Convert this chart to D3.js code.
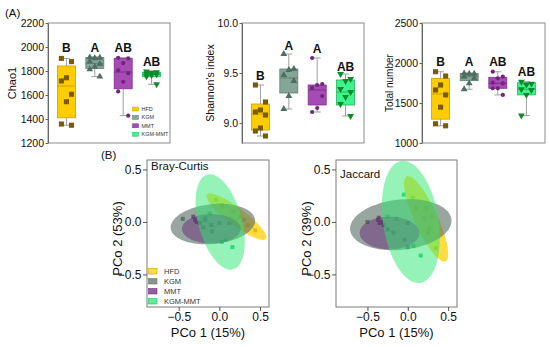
<!DOCTYPE html>
<html lang="en">
<head>
<meta charset="UTF-8">
<title>Diversity and PCoA</title>
<style>
  body { margin: 0; background: #fff; }
  svg { display: block; font-family: Arial, "Liberation Sans", sans-serif; }
</style>
</head>
<body>
<script src="https://cdn.jsdelivr.net/npm/d3@7"></script>
<script>
// groups in legend order
const groups = ["HFD", "KGM", "MMT", "KGM-MMT"];

// box stats [min, q1, median, q3, max] per group
const chao1Box = [[1348, 1410, 1675, 1842, 1905], [1753, 1822, 1864, 1912, 1918], [1428, 1652, 1792, 1906, 1910], [1689, 1752, 1772, 1790, 1798]];
const chao1Pts = [
  [1905, 1878, 1744, 1717, 1606, 1544, 1358, 1348],
  [1914, 1911, 1906, 1878, 1858, 1836, 1814, 1753],
  [1910, 1906, 1866, 1806, 1782, 1710, 1630, 1428],
  [1796, 1790, 1785, 1778, 1772, 1765, 1755, 1689]
];
const chao1Letters = [["B", 1962], ["A", 1962], ["AB", 1962], ["AB", 1840]];

const shannonBox = [[8.87, 8.93, 9.09, 9.19, 9.38], [9.14, 9.30, 9.45, 9.54, 9.69], [9.11, 9.18, 9.33, 9.38, 9.65], [9.07, 9.18, 9.31, 9.43, 9.49]];
const shannonPts = [
  [9.38, 9.21, 9.13, 9.11, 9.08, 8.95, 8.92, 8.87],
  [9.69, 9.54, 9.53, 9.48, 9.42, 9.27, 9.14],
  [9.65, 9.39, 9.38, 9.35, 9.27, 9.15, 9.11],
  [9.49, 9.44, 9.42, 9.34, 9.31, 9.26, 9.19, 9.07]
];
const shannonLetters = [["B", 9.43], ["A", 9.73], ["A", 9.70], ["AB", 9.52]];

const totalBox = [[1215, 1298, 1613, 1808, 1891], [1672, 1779, 1829, 1871, 1875], [1601, 1684, 1746, 1821, 1891], [1343, 1601, 1672, 1754, 1766]];
const totalPts = [
  [1891, 1837, 1725, 1663, 1601, 1448, 1240, 1215],
  [1871, 1866, 1866, 1829, 1808, 1746, 1672],
  [1891, 1829, 1808, 1754, 1746, 1684, 1684, 1601],
  [1766, 1742, 1729, 1672, 1663, 1601, 1343]
];
const totalLetters = [["B", 1961], ["A", 1961], ["AB", 1961], ["AB", 1837]];

// PCoA points [PCo1, PCo2] per group
const brayPts = [
  [[0.35, -0.03], [0.44, -0.08], [0.17, 0.10], [0.14, 0.0], [0.03, 0.16], [0.25, 0.05]],
  [[-0.18, 0.02], [0.0, -0.01], [0.12, -0.01], [-0.09, -0.09], [-0.45, 0.03], [0.30, 0.02]],
  [[-0.32, 0.05], [-0.28, 0.0], [-0.24, -0.01], [-0.30, 0.02], [-0.20, -0.05], [-0.10, -0.03]],
  [[-0.04, 0.21], [0.03, -0.19], [0.08, -0.17], [0.16, -0.24], [-0.17, 0.04], [-0.12, 0.08]]
];
const jaccardPts = [
  [[0.35, -0.25], [0.27, -0.06], [0.20, 0.035], [0.23, 0.13], [0.10, 0.13], [0.30, 0.05]],
  [[-0.18, -0.10], [-0.04, -0.17], [0.0, -0.01], [0.0, -0.24], [-0.50, 0.0], [0.25, -0.10]],
  [[-0.37, 0.02], [-0.35, -0.01], [-0.33, 0.0], [-0.36, 0.04], [-0.25, -0.07], [-0.30, -0.03]],
  [[-0.05, 0.26], [0.06, 0.23], [-0.25, 0.05], [-0.14, 0.03], [0.07, -0.23], [0.16, -0.32]]
];
// confidence ellipses [cx, cy, semi-major, semi-minor, angle deg]
const brayEll = [[0.21, 0.05, 0.42, 0.09, -29.5], [-0.08, -0.02, 0.52, 0.19, 4], [-0.10, -0.065, 0.36, 0.14, 0], [0.01, 0.0, 0.48, 0.26, 112.5]];
const jaccardEll = [[0.227, 0.03, 0.472, 0.135, 121.7], [-0.087, -0.026, 0.63, 0.24, 4], [-0.226, -0.105, 0.37, 0.155, 0], [0.038, 0.0, 0.593, 0.34, 103.8]];
const pcoTicks = [-0.5, 0.0, 0.5];

// styles
const boxFill = ["#ffcc00", "#84a598", "#a64bb4", "#3ef28c"];
const boxLine = ["#c9a100", "#62806f", "#7e2f8c", "#20b860"];
const ptCol = ["#7a5c00", "#4e6e64", "#74247f", "#0f8a2a"];
const ellFill = ["#ffd200", "#5b6f66", "#6a2c7a", "#2ee870"];
const ellOp = [0.75, 0.62, 0.5, 0.5];
const pcoPtCol = ["#8a6e00", "#3e5a50", "#4a1f5a", "#00c865"];

const svg = d3.select("body").append("svg")
  .attr("width", 550).attr("height", 347);

const shapes = [
  d3.symbol().type(d3.symbolSquare).size(26),
  d3.symbol().type(d3.symbolTriangle).size(20),
  d3.symbol().type(d3.symbolCircle).size(14),
  d3.symbol().type(d3.symbolTriangle).size(20)
];
const jit = [-0.28, 0.28, 0, -0.28, 0.28, 0, -0.28, 0.28];

function boxPanel(x0, x1, domain, ticks, fmt, title, titleX, titleSize, stats, pts, letters) {
  const top = 23, bottom = 143;
  const x = d3.scalePoint().domain(groups).range([x0, x1]).padding(0.65);
  const y = d3.scaleLinear().domain(domain).range([bottom, top]);
  const bw = 18;
  const g = svg.append("g");

  g.append("rect").attr("x", x0).attr("y", top).attr("width", x1 - x0).attr("height", bottom - top)
    .attr("fill", "none").attr("stroke", "#8c8c8c").attr("stroke-width", 1);

  const ax = g.append("g").attr("transform", `translate(${x0},0)`)
    .call(d3.axisLeft(y).tickValues(ticks).tickFormat(fmt).tickSize(2.5).tickPadding(1.5).tickSizeOuter(0));
  ax.select(".domain").attr("stroke", "#666");
  ax.selectAll(".tick line").attr("stroke", "#666");
  ax.selectAll("text").attr("font-size", 10.5).attr("fill", "#111").attr("font-family", "Arial, Liberation Sans, sans-serif");

  g.append("text").attr("transform", `translate(${titleX},${(top + bottom) / 2}) rotate(-90)`)
    .attr("text-anchor", "middle").attr("dy", "0.35em").attr("font-size", titleSize).attr("fill", "#111").text(title);

  groups.forEach((grp, i) => {
    const cx = x(grp), s = stats[i];
    // whisker + caps
    g.append("line").attr("x1", cx).attr("x2", cx).attr("y1", y(s[0])).attr("y2", y(s[4]))
      .attr("stroke", "#a0a0a0").attr("stroke-width", 1);
    [s[0], s[4]].forEach(v => g.append("line").attr("x1", cx - 3.5).attr("x2", cx + 3.5)
      .attr("y1", y(v)).attr("y2", y(v)).attr("stroke", "#a0a0a0").attr("stroke-width", 1));
    g.append("rect").attr("x", cx - bw / 2).attr("y", y(s[3])).attr("width", bw)
      .attr("height", y(s[1]) - y(s[3])).attr("fill", boxFill[i])
      .attr("stroke", boxLine[i]).attr("stroke-width", 0.8);
    g.append("line").attr("x1", cx - bw / 2).attr("x2", cx + bw / 2).attr("y1", y(s[2])).attr("y2", y(s[2]))
      .attr("stroke", boxLine[i]).attr("stroke-width", 1);

    g.selectAll(null).data(pts[i]).join("path")
      .attr("d", shapes[i])
      .attr("transform", (d, j) => `translate(${cx + jit[j] * bw},${y(d)})${i === 3 ? " rotate(180)" : ""}`)
      .attr("fill", ptCol[i]);

    g.append("text").attr("x", cx).attr("y", y(letters[i][1]))
      .attr("text-anchor", "middle").attr("font-size", 12).attr("font-weight", "bold")
      .attr("fill", "#111").text(letters[i][0]);
  });
  return g;
}

boxPanel(48, 170, [1200, 2200], d3.range(1200, 2201, 200), d3.format("d"), "Chao1", 12.5, 11, chao1Box, chao1Pts, chao1Letters);
boxPanel(242, 364, [8.8, 10.0], [9.0, 9.5, 10.0], d3.format(".1f"), "Shannon's index", 210.5, 10.5, shannonBox, shannonPts, shannonLetters);
boxPanel(422, 545, [1000, 2500], [1000, 1500, 2000, 2500], d3.format("d"), "Total number", 389, 10, totalBox, totalPts, totalLetters);

// small legend in Chao1 panel
const lg1 = svg.append("g");
groups.forEach((grp, i) => {
  lg1.append("rect").attr("x", 132.5).attr("y", 107 + i * 8.4).attr("width", 6).attr("height", 4)
    .attr("fill", boxFill[i]).attr("stroke", boxLine[i]).attr("stroke-width", 0.5);
  lg1.append("text").attr("x", 141.5).attr("y", 109 + i * 8.4).attr("dy", "0.35em")
    .attr("font-size", 5.5).attr("fill", "#333").text(grp);
});

svg.append("text").attr("x", 5).attr("y", 17).attr("font-size", 11.5).attr("fill", "#111").text("(A)");
svg.append("text").attr("x", 101).attr("y", 159).attr("font-size", 11.5).attr("fill", "#111").text("(B)");

// PCoA panels
function pcoPanel(x0, x1, label, labelY, yTitle, pts, ells, legend, id) {
  const top = 160, bottom = 307;
  const x = d3.scaleLinear().domain([-0.89, 0.61]).range([x0, x1]);
  const y = d3.scaleLinear().domain([-0.81, 0.59]).range([bottom, top]);
  const g = svg.append("g");

  g.append("clipPath").attr("id", id).append("rect")
    .attr("x", x0).attr("y", top).attr("width", x1 - x0).attr("height", bottom - top);
  const plot = g.append("g").attr("clip-path", `url(#${id})`);

  // points under the ellipses
  groups.forEach((grp, i) => {
    plot.selectAll(null).data(pts[i]).join("rect")
      .attr("x", d => x(d[0]) - 2).attr("y", d => y(d[1]) - 2)
      .attr("width", 4).attr("height", 4).attr("fill", pcoPtCol[i]).attr("opacity", 0.85);
  });

  const line = d3.line().x(d => x(d[0])).y(d => y(d[1])).curve(d3.curveLinearClosed);
  ells.forEach((e, i) => {
    const th = e[4] * Math.PI / 180;
    const ring = d3.range(0, 2 * Math.PI, Math.PI / 60).map(t => [
      e[0] + e[2] * Math.cos(t) * Math.cos(th) - e[3] * Math.sin(t) * Math.sin(th),
      e[1] + e[2] * Math.cos(t) * Math.sin(th) + e[3] * Math.sin(t) * Math.cos(th)
    ]);
    plot.append("path").attr("d", line(ring)).attr("fill", ellFill[i]).attr("fill-opacity", ellOp[i]);
  });

  g.append("rect").attr("x", x0).attr("y", top).attr("width", x1 - x0).attr("height", bottom - top)
    .attr("fill", "none").attr("stroke", "#7a7a7a").attr("stroke-width", 1);

  const fmt = d3.format(".1f");
  const ya = g.append("g").attr("transform", `translate(${x0},0)`)
    .call(d3.axisLeft(y).tickValues(pcoTicks).tickFormat(fmt).tickSize(4).tickPadding(1.5).tickSizeOuter(0));
  const xa = g.append("g").attr("transform", `translate(0,${bottom})`)
    .call(d3.axisBottom(x).tickValues(pcoTicks).tickFormat(fmt).tickSize(4).tickPadding(1).tickSizeOuter(0));
  [ya, xa].forEach(a => {
    a.select(".domain").remove();
    a.selectAll(".tick line").attr("stroke", "#555");
    a.selectAll("text").attr("font-size", 12).attr("fill", "#111").attr("font-family", "Arial, Liberation Sans, sans-serif");
  });

  g.append("text").attr("x", (x0 + x1) / 2).attr("y", 337).attr("text-anchor", "middle")
    .attr("font-size", 13).attr("fill", "#111").text("PCo 1 (15%)");
  g.append("text").attr("transform", `translate(${x0 - 30},${(top + bottom) / 2 + 5}) rotate(-90)`)
    .attr("text-anchor", "middle").attr("dy", "0.35em").attr("font-size", 13).attr("fill", "#111").text(yTitle);

  g.append("text").attr("x", x0 + 4).attr("y", labelY).attr("font-size", 11.5).attr("fill", "#111").text(label);

  if (legend) {
    groups.forEach((grp, i) => {
      g.append("rect").attr("x", x0 + 1.5).attr("y", 268.5 + i * 10).attr("width", 8.5).attr("height", 5.5)
        .attr("fill", ellFill[i]).attr("fill-opacity", 0.75).attr("stroke", boxLine[i]).attr("stroke-width", 0.6);
      g.append("text").attr("x", x0 + 17).attr("y", 271.5 + i * 10).attr("dy", "0.35em")
        .attr("font-size", 7.5).attr("fill", "#333").text(grp);
    });
  }
}

pcoPanel(147, 269, "Bray-Curtis", 169.5, "PCo 2 (53%)", brayPts, brayEll, true, "clipBray");
pcoPanel(336, 457, "Jaccard", 178, "PCo 2 (39%)", jaccardPts, jaccardEll, false, "clipJac");
</script>
</body>
</html>
